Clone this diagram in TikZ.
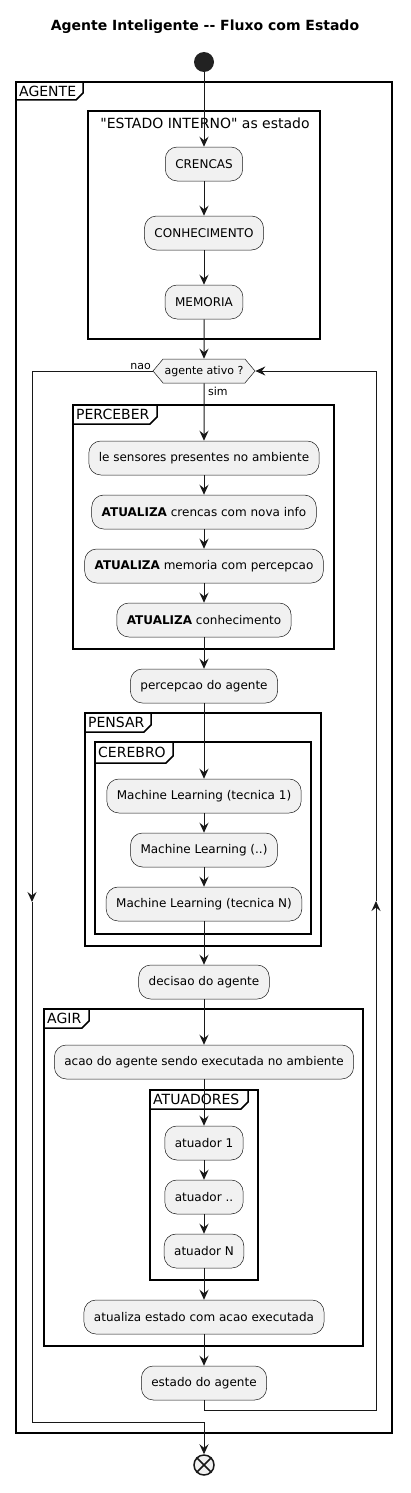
\documentclass[tikz,border=0pt]{standalone}
\usepackage{fontspec}
\setmainfont{DejaVu Sans}[Ligatures=TeXOff]
\usetikzlibrary{arrows.meta,shapes.symbols}
\definecolor{actfill}{HTML}{F1F1F1}
\definecolor{actline}{HTML}{181818}
\definecolor{startc}{HTML}{222222}
\newcommand{\umlframe}[8]{%
  \draw[frameline] (#1,#2) rectangle (#3,#4);
  \draw[frameline] (#1,#6) -- ({#5-7},#6) -- (#5,{#6-7}) -- (#5,#2);
  \node[framelabel] (#8) at ({#1+3},{(#2+#6)/2}) {#7};
}
\tikzset{
  arr/.style={draw=actline, line width=1pt, -{Stealth[length=10pt,width=9pt,inset=3.5pt]}},
  plain/.style={draw=actline, line width=1pt},
  act/.style={draw=actline, line width=0.5pt, fill=actfill, rounded corners=12pt,
    minimum height=34pt, inner xsep=10pt, inner ysep=0pt, font=\fontsize{12}{14}\selectfont},
  frameline/.style={draw=black, line width=1.5pt},
  framelabel/.style={anchor=west, inner sep=0pt, font=\fontsize{14}{16}\selectfont},
  lbl/.style={inner sep=0pt, font=\fontsize{11}{13}\selectfont},
  decis/.style={signal, signal to=east and west, signal pointer angle=100,
    draw=actline, line width=0.5pt, fill=actfill, minimum width=102pt,
    minimum height=24pt, inner sep=0pt, font=\fontsize{11}{13}\selectfont},
}
\begin{document}
\begin{tikzpicture}[x=1pt,y=-1pt]
\useasboundingbox (0,0) rectangle (410,1493);
\node[font=\bfseries\fontsize{14}{16}\selectfont] (title) at (205,27) {Agente Inteligente -{}- Fluxo com Estado};

% frames
\umlframe{16}{82}{392}{1433}{83}{100}{AGENTE}{fagente}
\draw[frameline] (88,111) rectangle (320,339);
\node[framelabel, anchor=center] (festado) at (205,123) {"ESTADO INTERNO" as estado};
\umlframe{73}{405}{334}{649}{157}{424}{PERCEBER}{fperceber}
\umlframe{85}{713}{321}{946}{151}{732}{PENSAR}{fpensar}
\umlframe{95}{742}{311}{934}{173}{763}{CEREBRO}{fcerebro}
\umlframe{44}{1009}{363}{1346}{89}{1028}{AGIR}{fagir}
\umlframe{150}{1090}{258}{1280}{248}{1109}{ATUADORES}{fatuadores}

% start
\node[circle, fill=startc, minimum size=20pt, inner sep=0pt] (start) at (204,62) {};

% activities
\node[act] (crencas) at (204,164) {CRENCAS};
\node[act] (conhec) at (204,233) {CONHECIMENTO};
\node[act] (memoria) at (204,302) {MEMORIA};
\node[decis] (dec) at (204,371) {agente ativo ?};
\node[lbl, anchor=east] (nao) at (151,366) {nao};
\node[lbl, anchor=west] (sim) at (208,391) {sim};
\node[act] (sens) at (204,458) {le sensores presentes no ambiente};
\node[act] (cren2) at (204,512) {\textbf{ATUALIZA} crencas com nova info};
\node[act] (mem2) at (204,566) {\textbf{ATUALIZA} memoria com percepcao};
\node[act] (con2) at (204,620) {\textbf{ATUALIZA} conhecimento};
\node[act] (perc) at (204,686) {percepcao do agente};
\node[act] (ml1) at (204,796) {Machine Learning (tecnica 1)};
\node[act] (mld) at (204,850) {Machine Learning (..)};
\node[act] (mln) at (204,904) {Machine Learning (tecnica N)};
\node[act] (decisao) at (204,982) {decisao do agente};
\node[act] (acao) at (204,1062) {acao do agente sendo executada no ambiente};
\node[act] (at1) at (204,1143) {atuador 1};
\node[act] (atd) at (204,1197) {atuador ..};
\node[act] (atn) at (204,1251) {atuador N};
\node[act] (atual) at (204,1317) {atualiza estado com acao executada};
\node[act] (estado) at (204,1383) {estado do agente};

% end
\node[circle, draw=actline, line width=1.5pt, fill=actfill, minimum size=20pt, inner sep=0pt] (fin) at (204,1465) {};
\draw[actline, line width=1.5pt] (fin.north east) -- (fin.south west);
\draw[actline, line width=1.5pt] (fin.north west) -- (fin.south east);

% connectors
\draw[arr] (start) -- (crencas);
\draw[arr] (crencas) -- (conhec);
\draw[arr] (conhec) -- (memoria);
\draw[arr] (memoria) -- (dec);
\draw[arr] (dec) -- (sens);
\draw[arr] (sens) -- (cren2);
\draw[arr] (cren2) -- (mem2);
\draw[arr] (mem2) -- (con2);
\draw[arr] (con2) -- (perc);
\draw[arr] (perc) -- (ml1);
\draw[arr] (ml1) -- (mld);
\draw[arr] (mld) -- (mln);
\draw[arr] (mln) -- (decisao);
\draw[arr] (decisao) -- (acao);
\draw[arr] (acao) -- (at1);
\draw[arr] (at1) -- (atd);
\draw[arr] (atd) -- (atn);
\draw[arr] (atn) -- (atual);
\draw[arr] (atual) -- (estado);

% loop: nao branch
\coordinate (la) at (32,371);
\coordinate (lb) at (32,902);
\coordinate (lc) at (32,1422);
\coordinate (ld) at (204,1422);
\draw[arr] (dec.west) -- (la) -- (lb);
\draw[arr] (lb) -- (lc) -- (ld) -- (fin);

% loop back
\coordinate (ra) at (204,1410);
\coordinate (rb) at (376,1410);
\coordinate (rc) at (376,901);
\coordinate (rd) at (376,371);
\draw[arr] (estado.south) -- (ra) -- (rb) -- (rc);
\draw[arr] (rc) -- (rd) -- (dec.east);
\end{tikzpicture}
\end{document}
